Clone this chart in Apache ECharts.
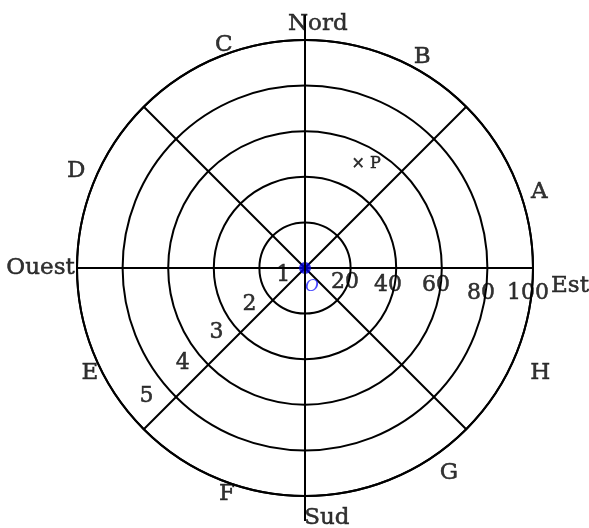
<!DOCTYPE html>
<html>
<head>
<meta charset="utf-8">
<script src="https://cdn.jsdelivr.net/npm/echarts@6/dist/echarts.min.js"></script>
<style>
  html, body { margin: 0; padding: 0; background: #fff; }
  #main { width: 589px; height: 528px; }
</style>
</head>
<body>
<div id="main"></div>
<script>
// rings and spokes
const ringValues = [20, 40, 60, 80, 100];
const spokeStep = 45;
// the north-south spoke runs a little past the outer ring
const northSouthReach = 111;

// compass words, [radius, angle] in chart units
const compassNames = ['Nord', 'Est', 'Sud', 'Ouest'];
const compassRadius = [107, 116.5, 110, 116];
const compassAngle = [87, 356, 275, 180];

// sector letters
const sectorNames = ['A', 'B', 'C', 'D', 'E', 'F', 'G', 'H'];
const sectorRadius = [108, 106, 104, 109, 105, 105, 110, 113];
const sectorAngle = [18, 61, 110, 157, 206, 251, 305, 336];

// ring numbers along the south-west spoke
const ringNumbers = ['1', '2', '3', '4', '5'];
const ringNumRadius = [10, 29, 48, 68, 89.5];
const ringNumAngle = [198, 213, 216, 218, 219];

// tick labels under the east spoke
const tickLabels = ['20', '40', '60', '80', '100'];
const tickRadius = [18.6, 37.2, 57.9, 78, 98.4];
const tickAngle = [340.7, 348.4, 352.6, 351.9, 353.6];

// point P and origin
const pointP = [52.9, 59.6];
const origin = [0, 0];

const font = 'DejaVu Serif';
const R = 228;

function labelSeries(names, radius, angle, size, extra) {
  return Object.assign({
    type: 'scatter',
    coordinateSystem: 'polar',
    clip: false,
    symbolSize: 1,
    itemStyle: { color: 'transparent' },
    silent: true,
    label: {
      show: true,
      position: 'inside',
      formatter: p => p.data.name,
      color: '#000',
      textBorderColor: '#000',
      textBorderWidth: 0.5,
      fontFamily: font,
      fontSize: size,
      align: 'center',
      verticalAlign: 'middle'
    },
    data: names.map((n, i) => ({ name: n, value: [radius[i], angle[i]] }))
  }, extra || {});
}

const hiddenAxis = {
  axisLine: { show: false }, axisTick: { show: false },
  axisLabel: { show: false }, splitLine: { show: false }
};

const chart = echarts.init(document.getElementById('main'));
chart.setOption({
  animation: false,
  backgroundColor: '#fff',
  polar: [
    { center: [305, 268], radius: R },
    { center: [305, 268], radius: R * northSouthReach / 100 }
  ],
  angleAxis: [{
    polarIndex: 0,
    type: 'value', min: 0, max: 360, interval: spokeStep,
    startAngle: 0, clockwise: false,
    axisLine: { lineStyle: { color: '#000', width: 2 } },
    axisTick: { show: false },
    axisLabel: { show: false },
    splitLine: { show: true, lineStyle: { color: '#000', width: 2 } }
  }, Object.assign({
    polarIndex: 1, type: 'value', min: 0, max: 360, startAngle: 0, clockwise: false
  }, hiddenAxis)],
  radiusAxis: [{
    polarIndex: 0,
    type: 'value', min: 0, max: ringValues[ringValues.length - 1], interval: ringValues[0],
    axisLine: { show: false },
    axisTick: { show: false },
    axisLabel: { show: false },
    splitLine: { show: true, lineStyle: { color: '#000', width: 2 } }
  }, Object.assign({
    polarIndex: 1, type: 'value', min: 0, max: 1
  }, hiddenAxis)],
  series: [
    {
      type: 'line',
      coordinateSystem: 'polar',
      polarIndex: 1,
      clip: false,
      symbol: 'none',
      silent: true,
      lineStyle: { color: '#000', width: 2 },
      data: [[1, 90], [1, 270]]
    },
    labelSeries(compassNames, compassRadius, compassAngle, 23),
    labelSeries(sectorNames, sectorRadius, sectorAngle, 23),
    labelSeries(ringNumbers, ringNumRadius, ringNumAngle, 22),
    labelSeries(tickLabels, tickRadius, tickAngle, 22),
    labelSeries(['× P'], [pointP[0]], [pointP[1]], 16),
    labelSeries(['O'], [8.5], [291], 17, {
      label: {
        show: true, position: 'inside', formatter: p => p.data.name,
        color: '#1a1aff', fontFamily: font, fontSize: 17, fontStyle: 'italic',
        align: 'center', verticalAlign: 'middle'
      }
    }),
    {
      type: 'scatter',
      coordinateSystem: 'polar',
      symbolSize: 12,
      itemStyle: { color: '#0000e0' },
      silent: true,
      data: [origin]
    }
  ]
});
</script>
</body>
</html>
